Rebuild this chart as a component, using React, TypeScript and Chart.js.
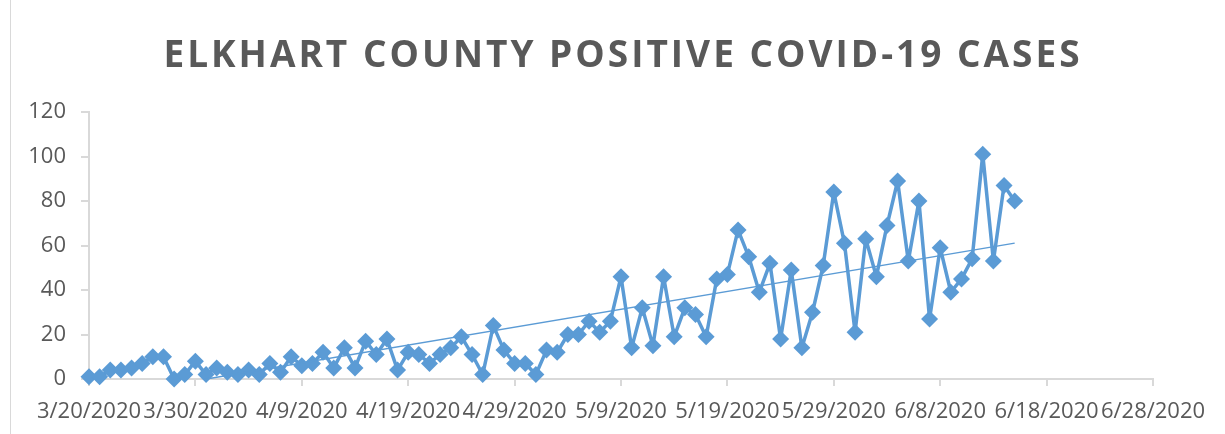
import React, { useEffect, useRef } from "react";
import { Chart, registerables } from "chart.js";

Chart.register(...registerables);

const chartTitle = "ELKHART COUNTY POSITIVE COVID-19 CASES";

// x tick labels every 10 days starting 3/20/2020
const xTickLabels = [
  "3/20/2020", "3/30/2020", "4/9/2020", "4/19/2020", "4/29/2020", "5/9/2020",
  "5/19/2020", "5/29/2020", "6/8/2020", "6/18/2020", "6/28/2020",
];

// day index since 3/20/2020 for each daily observation
const dayIndex = [
  0, 1, 2, 3, 4, 5, 6, 7, 8, 9,
  10, 11, 12, 13, 14, 15, 16, 17, 18, 19,
  20, 21, 22, 23, 24, 25, 26, 27, 28, 29,
  30, 31, 32, 33, 34, 35, 36, 37, 38, 39,
  40, 41, 42, 43, 44, 45, 46, 47, 48, 49,
  50, 51, 52, 53, 54, 55, 56, 57, 58, 59,
  60, 61, 62, 63, 64, 65, 66, 67, 68, 69,
  70, 71, 72, 73, 74, 75, 76, 77, 78, 79,
  80, 81, 82, 83, 84, 85, 86, 87,
];

// daily positive cases
const dailyCases = [
  1, 1, 4, 4, 5, 7, 10, 10, 0, 2,
  8, 2, 5, 3, 2, 4, 2, 7, 3, 10,
  6, 7, 12, 5, 14, 5, 17, 11, 18, 4,
  12, 11, 7, 11, 14, 19, 11, 2, 24, 13,
  7, 7, 2, 13, 12, 20, 20, 26, 21, 26,
  46, 14, 32, 15, 46, 19, 32, 29, 19, 45,
  47, 67, 55, 39, 52, 18, 49, 14, 30, 51,
  84, 61, 21, 63, 46, 69, 89, 53, 80, 27,
  59, 39, 45, 54, 101, 53, 87, 80,
];

const yTicks = [0, 20, 40, 60, 80, 100, 120];

const BLUE = "#5B9BD5";
const GRAY_TEXT = "#595959";
const AXIS = "#D9D9D9";

function linearFit(xs: number[], ys: number[]) {
  const n = xs.length;
  const mx = xs.reduce((a, b) => a + b, 0) / n;
  const my = ys.reduce((a, b) => a + b, 0) / n;
  let sxy = 0;
  let sxx = 0;
  for (let i = 0; i < n; i++) {
    sxy += (xs[i] - mx) * (ys[i] - my);
    sxx += (xs[i] - mx) * (xs[i] - mx);
  }
  const slope = sxy / sxx;
  return { slope, intercept: my - slope * mx };
}

export default function App() {
  const canvasRef = useRef<HTMLCanvasElement | null>(null);

  useEffect(() => {
    document.body.style.margin = "0";
    const canvas = canvasRef.current;
    if (!canvas) return;

    const points = dayIndex.map((d, i) => ({ x: d, y: dailyCases[i] }));
    const fit = linearFit(dayIndex, dailyCases);
    const x0 = dayIndex[0];
    const x1 = dayIndex[dayIndex.length - 1];
    const trend = [
      { x: x0, y: fit.intercept + fit.slope * x0 },
      { x: x1, y: fit.intercept + fit.slope * x1 },
    ];

    const decorPlugin = {
      id: "decor",
      afterDraw(chart: any) {
        const ctx = chart.ctx;
        ctx.save();
        ctx.font = 'bold 37px "Open Sans"';
        (ctx as any).letterSpacing = "3px";
        ctx.fillStyle = GRAY_TEXT;
        ctx.textAlign = "center";
        ctx.textBaseline = "alphabetic";
        ctx.fillText(chartTitle, 623, 67);
        ctx.restore();
        ctx.save();
        ctx.strokeStyle = AXIS;
        ctx.lineWidth = 1;
        ctx.beginPath();
        ctx.moveTo(10.5, 0);
        ctx.lineTo(10.5, chart.height);
        ctx.stroke();
        ctx.restore();
      },
    };

    const chart = new Chart(canvas, {
      type: "line",
      data: {
        datasets: [
          {
            label: "Cases",
            data: points,
            borderColor: BLUE,
            backgroundColor: BLUE,
            borderWidth: 3.5,
            borderJoinStyle: "round",
            pointStyle: "rectRot",
            pointRadius: 8.5,
            pointBorderWidth: 0,
            pointBackgroundColor: BLUE,
            tension: 0,
            clip: false,
            order: 1,
          },
          {
            label: "Trend",
            data: trend,
            borderColor: BLUE,
            borderWidth: 1.5,
            pointRadius: 0,
            tension: 0,
            order: 0,
          },
        ],
      },
      options: {
        responsive: false,
        animation: false,
        layout: { padding: { left: 0, right: 72, top: 112, bottom: 0 } },
        plugins: {
          legend: { display: false },
          title: { display: false },
          tooltip: { enabled: false },
        },
        scales: {
          x: {
            type: "linear",
            min: 0,
            max: 100,
            afterFit: (s: any) => {
              s.height = 55;
            },
            afterBuildTicks: (s: any) => {
              s.ticks = xTickLabels.map((_, i) => ({ value: i * 10 }));
            },
            ticks: {
              autoSkip: false,
              maxRotation: 0,
              minRotation: 0,
              padding: 13,
              color: GRAY_TEXT,
              font: { family: '"Open Sans"', size: 22 },
              callback: (v: any) => xTickLabels[Math.round(Number(v) / 10)] ?? "",
            },
            grid: {
              drawOnChartArea: false,
              drawTicks: true,
              tickLength: 7,
              color: AXIS,
              lineWidth: 2,
            },
            border: { display: true, color: AXIS, width: 2 },
          },
          y: {
            min: 0,
            max: 120,
            afterFit: (s: any) => {
              s.width = 89;
            },
            afterBuildTicks: (s: any) => {
              s.ticks = yTicks.map((v) => ({ value: v }));
            },
            ticks: {
              padding: 15,
              color: GRAY_TEXT,
              font: { family: '"Open Sans"', size: 22 },
            },
            grid: {
              drawOnChartArea: false,
              drawTicks: true,
              tickLength: 8,
              color: AXIS,
              lineWidth: 2,
            },
            border: { display: true, color: AXIS, width: 2 },
          },
        },
      },
      plugins: [decorPlugin],
    });

    return () => {
      chart.destroy();
    };
  }, []);

  return (
    <div style={{ width: 1225, height: 434, background: "#fff" }}>
      <canvas ref={canvasRef} width={1225} height={434} style={{ display: "block" }} />
    </div>
  );
}
